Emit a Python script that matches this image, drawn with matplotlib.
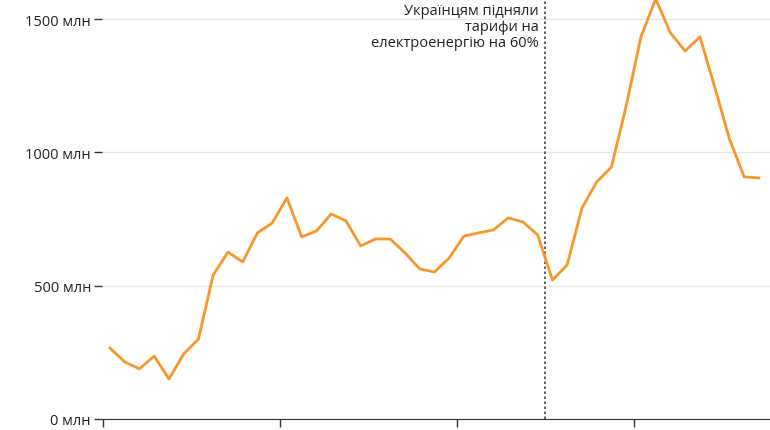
import matplotlib
matplotlib.use("Agg")
import matplotlib.pyplot as plt

values = [266, 214, 188, 236, 150, 244, 300, 540, 626, 589, 698, 735, 829, 683, 705, 769,
          743, 649, 675, 675, 623, 563, 551, 604, 686, 698, 709, 754, 739, 690, 521, 578,
          791, 889, 945, 1174, 1433, 1575, 1448, 1380, 1433, 1245, 1050, 908, 904]
x = list(range(len(values)))
yticks = [0, 500, 1000, 1500]
ytick_labels = ["0 млн", "500 млн", "1000 млн", "1500 млн"]
xticks = [-0.5, 11.5, 23.5, 35.5]
event_x = 29.5
event_text = "Українцям підняли\nтарифи на\nелектроенергію на 60%"

plt.rcParams['font.family'] = ['Open Sans', 'DejaVu Sans']
fig = plt.figure(figsize=(7.7, 4.31), dpi=100)
ax = fig.add_axes([102/770, 11/431, 668/770, 420/431])
ax.set_ylim(0, 1575)
ax.set_xlim(-0.54, 44.75)
ax.plot(x, values, color="#f7962a", lw=2, clip_on=False, zorder=3)
ax.set_yticks(yticks)
ax.set_yticklabels(ytick_labels, fontsize=10.5, color="#222")
ax.set_xticks(xticks)
ax.set_xticklabels([])
ax.tick_params(axis='y', length=6, color="#333", width=1, pad=2)
ax.tick_params(axis='x', length=6, color="#333", width=1)
ax.grid(axis='y', color="#e6e6e6", lw=1)
for s in ['top', 'right', 'left']:
    ax.spines[s].set_visible(False)
ax.spines['bottom'].set_color("#333")
ax.axvline(event_x, color="#444", ls=(0, (1.5, 1.5)), lw=1.2, zorder=2)
ax.text(event_x - 0.45, 1560, event_text, ha='right', va='top', fontsize=10.5,
        color="#222", linespacing=1.1)
fig.savefig("out.png", dpi=100)
